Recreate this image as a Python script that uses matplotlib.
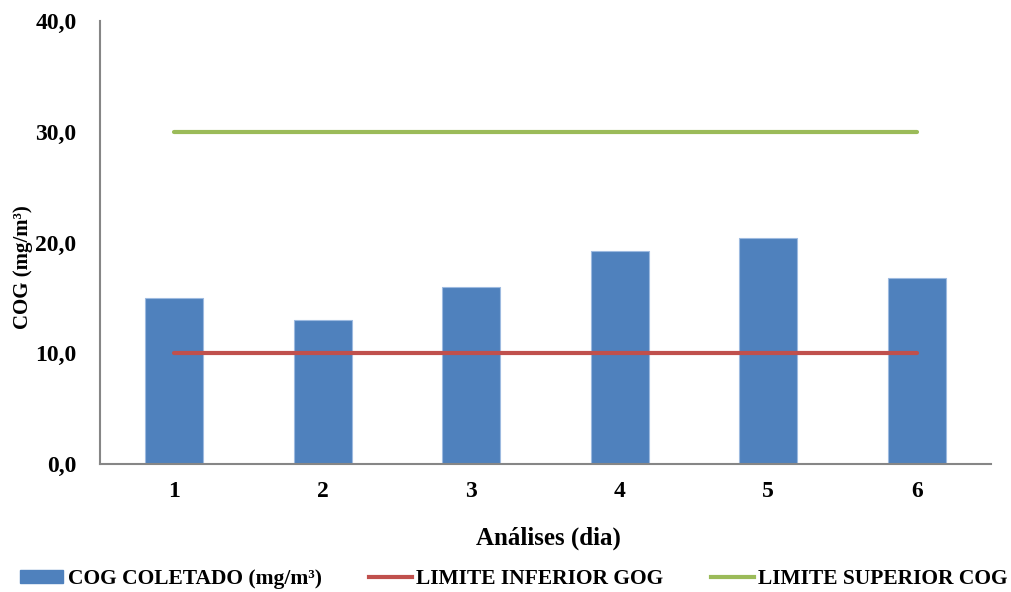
import matplotlib
matplotlib.use("Agg")
import matplotlib.pyplot as plt
from matplotlib.patches import Patch
from matplotlib.lines import Line2D

categories = ["1", "2", "3", "4", "5", "6"]
cog_coletado = [15.0, 13.0, 16.0, 19.2, 20.4, 16.8]
limite_inferior = [10.0, 10.0, 10.0, 10.0, 10.0, 10.0]
limite_superior = [30.0, 30.0, 30.0, 30.0, 30.0, 30.0]
y_ticks = [0, 10, 20, 30, 40]
y_tick_labels = ["0,0", "10,0", "20,0", "30,0", "40,0"]

plt.rcParams['font.family'] = ['Liberation Serif', 'DejaVu Serif']
plt.rcParams['font.weight'] = 'bold'

fig = plt.figure(figsize=(10.12, 5.92), dpi=100)
ax = fig.add_axes([100/1012, 1-464/592, (991-100)/1012, (464-21)/592])

x = list(range(1, len(categories)+1))
ax.bar(x, cog_coletado, width=0.39, color="#4F81BD", edgecolor="#9DBAE0", linewidth=0.8, zorder=2)
ax.plot(x, limite_inferior, color="#C0504D", lw=3, solid_capstyle='round', zorder=3)
ax.plot(x, limite_superior, color="#9BBB59", lw=3, solid_capstyle='round', zorder=3)

ax.set_xlim(0.5, 6.5)
ax.set_ylim(0, 40)
ax.set_xticks(x)
ax.set_xticklabels(categories, fontsize=17, fontweight='bold')
ax.set_yticks(y_ticks)
ax.set_yticklabels(y_tick_labels, fontsize=17, fontweight='bold')
ax.tick_params(axis='y', length=0, pad=17)
ax.tick_params(axis='x', length=0, pad=12)
for s in ['top', 'right']:
    ax.spines[s].set_visible(False)
for s in ['left', 'bottom']:
    ax.spines[s].set_color('#868686')
    ax.spines[s].set_linewidth(1.5)

fig.text(23/1012, 1-267/592, "COG (mg/m³)", rotation=90, ha='center', va='center', fontsize=15, fontweight='bold')
fig.text(548/1012, 1-538/592, "Análises (dia)", ha='center', va='center', fontsize=18, fontweight='bold')

handles = [Patch(facecolor="#4F81BD", edgecolor="#4F81BD"),
           Line2D([0], [0], color="#C0504D", lw=3),
           Line2D([0], [0], color="#9BBB59", lw=3)]
labels = ["COG COLETADO (mg/m³)", "LIMITE INFERIOR GOG", "LIMITE SUPERIOR COG"]
fig.legend(handles, labels, loc='center', bbox_to_anchor=(514/1012, 1-579/592), ncol=3,
           frameon=False, handlelength=2.0, handleheight=0.6, handletextpad=0.2,
           columnspacing=2.2, prop={'weight': 'bold', 'size': 15.5})

fig.savefig("out.png", dpi=100)
